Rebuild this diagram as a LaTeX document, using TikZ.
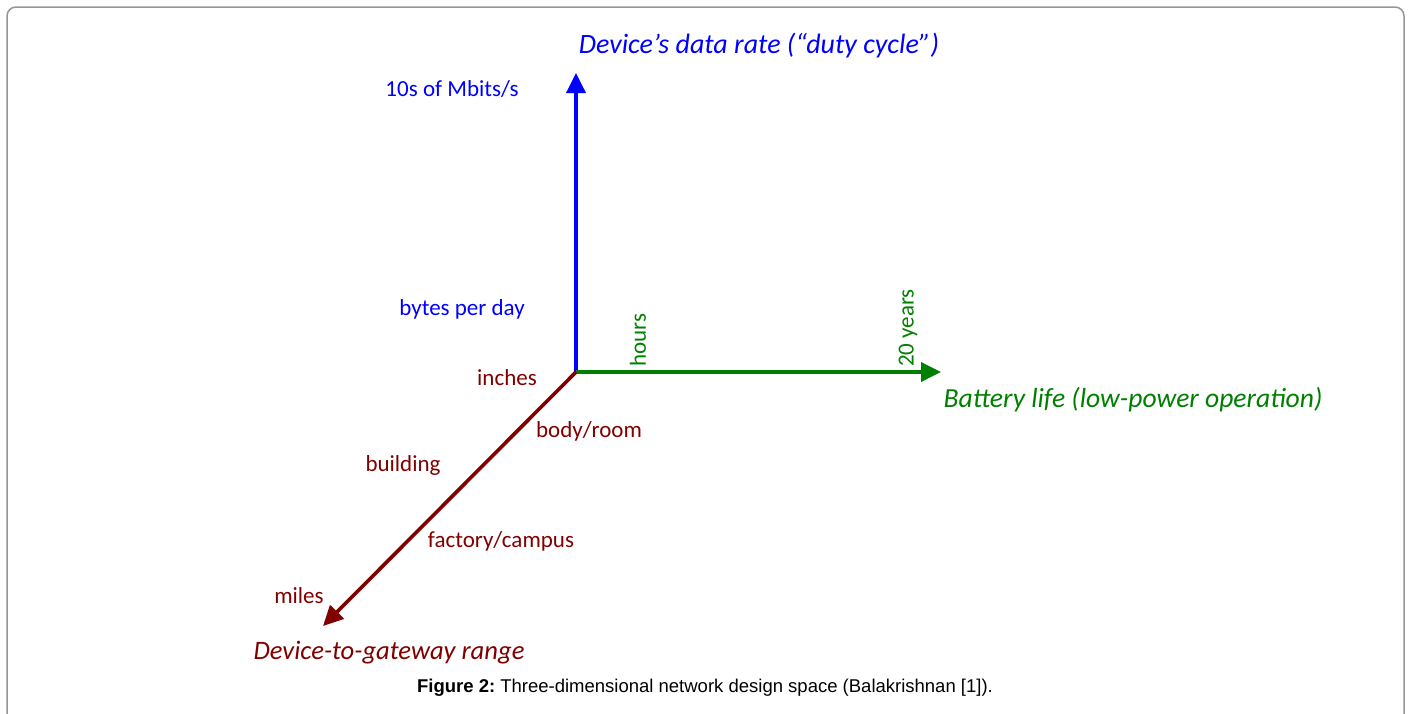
\documentclass[tikz,border=0pt]{standalone}
\usepackage{fontspec}
\setmainfont{Carlito}
\newfontfamily\capfont{Liberation Sans}
\usetikzlibrary{arrows.meta}
\definecolor{rateblue}{RGB}{0,0,255}
\definecolor{lifegreen}{RGB}{0,128,0}
\definecolor{rangered}{RGB}{128,0,0}
\definecolor{framegray}{RGB}{150,150,150}
\frenchspacing
\tikzset{
  axisline/.style={line width=3.6pt, -{Triangle[length=20pt,width=19pt]}},
  ticklabel/.style={inner sep=0pt, font=\fontsize{23}{25}\selectfont},
  axistitle/.style={inner sep=0pt, font=\fontsize{#1}{30}\selectfont\itshape},
}
\begin{document}
\begin{tikzpicture}[x=1pt,y=-1pt]
\useasboundingbox (0,0) rectangle (1410,713);
\clip (0,0) rectangle (1410,713);
% frame, open at the bottom
\draw[framegray, line width=1.5pt, rounded corners=9pt] (7,730) -- (7,7) -- (1404,7) -- (1404,730);

% axes
\coordinate (O) at (576,372);
\coordinate (ytip) at (576,73);
\coordinate (xtip) at (941,372);
\coordinate (ztip) at (323,626);
\draw[axisline, rateblue] (O) -- (ytip);
\draw[axisline, lifegreen] (O) -- (xtip);
\draw[axisline, rangered] (O) -- (ztip);

% data-rate axis
\node[axistitle=28, text=rateblue] (ytitle) at (759,46) {Device’s data rate (“duty cycle”)};
\node[ticklabel, text=rateblue] (mbits) at (452,89) {10s of Mbits/s};
\node[ticklabel, text=rateblue] (bytes) at (462,309) {bytes per day};

% battery-life axis
\node[ticklabel, text=lifegreen, rotate=90] (hours) at (638,340) {hours};
\node[ticklabel, text=lifegreen, rotate=90] (years) at (908,328) {20 years};
\node[axistitle=27.6, text=lifegreen] (xtitle) at (1133,400) {Battery life (low-power operation)};

% range axis
\node[ticklabel, text=rangered] (inches) at (507,378) {inches};
\node[ticklabel, text=rangered] (room) at (589,431) {body/room};
\node[ticklabel, text=rangered] (building) at (403,465) {building};
\node[ticklabel, text=rangered] (campus) at (501,541) {factory/campus};
\node[ticklabel, text=rangered] (miles) at (299,596) {miles};
\node[axistitle=26.6, text=rangered] (ztitle) at (389,653) {Device-to-gateway range};

% caption
\node[inner sep=0pt, font=\capfont\fontsize{18.5}{20}\selectfont] (caption) at (705,688)
  {\textbf{Figure 2:} Three-dimensional network design space (Balakrishnan [1]).};
\end{tikzpicture}
\end{document}
